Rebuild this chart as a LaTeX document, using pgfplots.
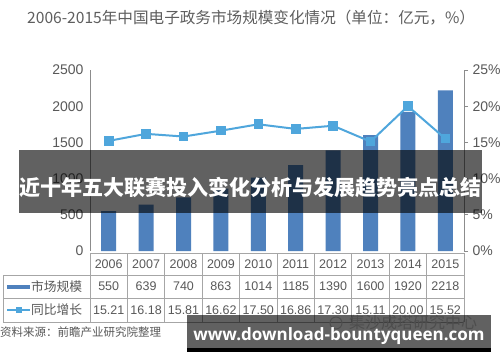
\documentclass[border=0pt]{standalone}
\usepackage{pgfplots}
\pgfplotsset{compat=1.18}
\usepackage{pgfplotstable}
\usepackage{fontspec}
\setmainfont{Liberation Sans}
\newfontfamily\cjk{Noto Sans CJK SC}
\newfontfamily\urlf{Open Sans}
\definecolor{barblue}{HTML}{4F81BD}
\definecolor{lineblue}{HTML}{4FA6DC}
\definecolor{txtgrey}{HTML}{595959}
\definecolor{titlegrey}{HTML}{5E5E5E}
\definecolor{axisgrey}{HTML}{8C8C8C}
\definecolor{tablegrey}{HTML}{A6A6A6}
\definecolor{wmgrey}{HTML}{CDCDCD}

\pgfplotstableread{
idx year size growth
0 2006 550 15.21
1 2007 639 16.18
2 2008 740 15.81
3 2009 863 16.62
4 2010 1014 17.50
5 2011 1185 16.86
6 2012 1390 17.30
7 2013 1600 15.11
8 2014 1920 20.00
9 2015 2218 15.52
}\data

\begin{document}
\begin{tikzpicture}[x=1bp,y=1bp]
\path[use as bounding box] (0,0) rectangle (500,362);
\fill[white] (0,0) rectangle (500,362);

\node[anchor=west, inner sep=0, text=titlegrey, font=\cjk\fontsize{15.6bp}{15.6bp}\selectfont] at (27,344) {2006-2015年中国电子政务市场规模变化情况（单位：亿元，\%）};

\begin{axis}[
  at={(90bp,111bp)}, anchor=south west, scale only axis,
  width=374bp, height=181bp,
  xmin=-0.5, xmax=9.5, ymin=0, ymax=2500,
  axis x line=none, axis y line*=left,
  y axis line style={-, draw=axisgrey, line width=0.9bp},
  ytick={0,500,...,2500}, major tick length=0pt,
  yticklabel style={font=\fontsize{14bp}{14bp}\selectfont, text=txtgrey, xshift=-3bp},
  /pgf/number format/assume math mode=true,
  /pgf/number format/1000 sep={},
  clip=false,
]
\addplot[ybar, bar width=15bp, fill=barblue, draw=none] table[x=idx,y=size]{\data};
\end{axis}

\begin{axis}[
  at={(90bp,111bp)}, anchor=south west, scale only axis,
  width=374bp, height=181bp,
  xmin=-0.5, xmax=9.5, ymin=0, ymax=25,
  axis x line=none, axis y line*=right,
  y axis line style={-, draw=axisgrey, line width=0.9bp},
  ytick={0,5,...,25}, major tick length=4bp, tick align=outside,
  tick style={draw=axisgrey, line width=0.8bp},
  yticklabel={\pgfmathprintnumber{\tick}\%},
  yticklabel style={font=\fontsize{14bp}{14bp}\selectfont, text=txtgrey, xshift=1bp},
  /pgf/number format/assume math mode=true,
  clip=false,
]
\addplot[lineblue, line width=2bp, mark=square*, mark size=3.8bp, mark options={fill=lineblue, draw=none}] table[x=idx,y=growth]{\data};
\end{axis}

% data table
\begin{scope}[tablegrey, line width=0.8bp]
\draw (90,109) -- (464,109);
\draw (3,87) -- (464,87);
\draw (3,64) -- (464,64);
\draw (3,40) -- (464,40);
\draw (3,87) -- (3,40);
\foreach \k in {0,...,10} { \draw ({90+37.4*\k},109) -- ({90+37.4*\k},40); }
\end{scope}
\foreach \yr/\s/\g [count=\i from 0] in {2006/550/15.21,2007/639/16.18,2008/740/15.81,2009/863/16.62,2010/1014/17.50,2011/1185/16.86,2012/1390/17.30,2013/1600/15.11,2014/1920/20.00,2015/2218/15.52} {
  \node[text=txtgrey, font=\fontsize{12.5bp}{12.5bp}\selectfont] at ({90+37.4*(\i+0.5)},98) {\yr};
  \node[text=txtgrey, font=\fontsize{12.5bp}{12.5bp}\selectfont] at ({90+37.4*(\i+0.5)},75.5) {\s};
  \node[text=txtgrey, font=\fontsize{12.5bp}{12.5bp}\selectfont] at ({90+37.4*(\i+0.5)},52) {\g};
}
\draw[barblue, line width=4bp] (7,75.5) -- (30,75.5);
\draw[lineblue, line width=1.2bp] (7,52) -- (30,52);
\fill[lineblue] (16,49) rectangle (22,55);
\node[anchor=west, inner sep=0, text=txtgrey, font=\cjk\fontsize{12.75bp}{12.75bp}\selectfont] at (31,75.5) {市场规模};
\node[anchor=west, inner sep=0, text=txtgrey, font=\cjk\fontsize{12.75bp}{12.75bp}\selectfont] at (31,52) {同比增长};

\node[anchor=west, inner sep=0, text=txtgrey, font=\cjk\fontsize{11.5bp}{11.5bp}\selectfont] at (0,30) {资料来源：前瞻产业研究院整理};

% watermark
\draw[wmgrey, line width=1bp] (336,39) circle (6);
\node[text=wmgrey, inner sep=0, font=\cjk\fontsize{16bp}{16bp}\selectfont] at (413,40) {集沙成塔研究中心};

% overlay band
\fill[black, opacity=0.62] (19,212) rectangle (482,149);
\node[text=white, font=\cjk\bfseries\fontsize{21bp}{21bp}\selectfont] at (250.5,175) {近十年五大联赛投入变化分析与发展趋势亮点总结};

% bottom banner
\fill[black, opacity=0.62] (187,47) rectangle (491,14);
\fill[black] (187,14) rectangle (491,10);
\node[text=white, font=\urlf\bfseries\fontsize{17bp}{17bp}\selectfont] at (339,26) {www.download-bountyqueen.com};
\end{tikzpicture}
\end{document}
